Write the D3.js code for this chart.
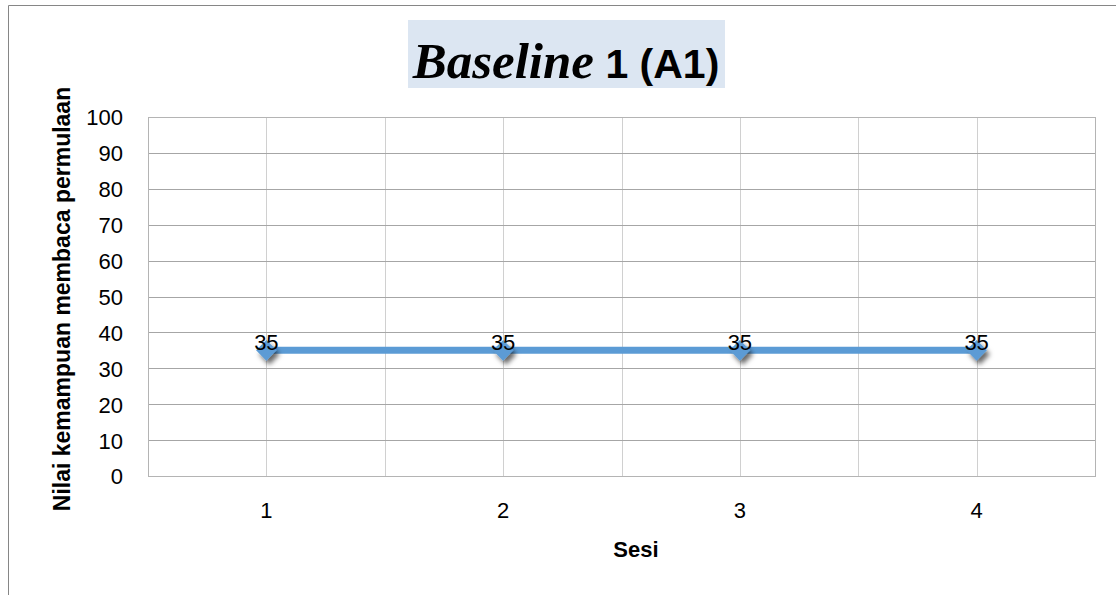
<!DOCTYPE html>
<html>
<head>
<meta charset="utf-8">
<script src="https://cdn.jsdelivr.net/npm/d3@7"></script>
<style>
  html, body { margin: 0; padding: 0; background: #ffffff; }
  svg { display: block; }
</style>
</head>
<body>
<svg id="chart" width="1116" height="595"></svg>
<script>
// Session numbers and reading scores for Baseline 1 (A1)
const sessions = ["1", "2", "3", "4"];
const scores = [35, 35, 35, 35];
const yTicks = [0, 10, 20, 30, 40, 50, 60, 70, 80, 90, 100];

const titleItalic = "Baseline";
const titleRest = " 1 (A1)";
const yAxisTitle = "Nilai kemampuan membaca permulaan";
const xAxisTitle = "Sesi";

const W = 1116, H = 595;
const plot = { left: 148, right: 1095, top: 117, bottom: 476 };
const sans = "'Liberation Sans', Arial, sans-serif";

const svg = d3.select("#chart");

// drop shadow used by the markers
const defs = svg.append("defs");
const f = defs.append("filter").attr("id", "shadow")
  .attr("x", "-60%").attr("y", "-60%").attr("width", "220%").attr("height", "220%");
f.append("feDropShadow").attr("dx", 3).attr("dy", 4).attr("stdDeviation", 2.5)
  .attr("flood-color", "#000").attr("flood-opacity", 0.6);

// chart frame (top and left edges visible)
svg.append("path")
  .attr("d", `M8.5,${H} L8.5,5.5 L${W},5.5`)
  .attr("fill", "none").attr("stroke", "#868686").attr("stroke-width", 1);

const x = d3.scaleBand().domain(sessions).range([plot.left, plot.right]).paddingInner(0).paddingOuter(0);
const y = d3.scaleLinear().domain([0, 100]).range([plot.bottom, plot.top]);
const cx = d => x(d) + x.bandwidth() / 2;

// vertical gridlines: category boundaries and centres
const g = svg.append("g");
const vLines = [];
sessions.forEach((s, i) => { if (i > 0) vLines.push(x(s)); vLines.push(cx(s)); });
g.selectAll("line.v").data(vLines).join("line")
  .attr("class", "v")
  .attr("x1", d => Math.round(d) + 0.5).attr("x2", d => Math.round(d) + 0.5)
  .attr("y1", plot.top).attr("y2", plot.bottom)
  .attr("stroke", "#d0d0d0").attr("stroke-width", 1);

// horizontal gridlines
g.selectAll("line.h").data(yTicks).join("line")
  .attr("class", "h")
  .attr("x1", plot.left).attr("x2", plot.right)
  .attr("y1", d => Math.round(y(d)) + 0.5).attr("y2", d => Math.round(y(d)) + 0.5)
  .attr("stroke", "#a6a6a6").attr("stroke-width", 1);

// plot area border
g.append("rect")
  .attr("x", plot.left + 0.5).attr("y", Math.round(plot.top) + 0.5)
  .attr("width", plot.right - plot.left).attr("height", Math.round(plot.bottom) - Math.round(plot.top))
  .attr("fill", "none").attr("stroke", "#b4b4b4").attr("stroke-width", 1);

// y axis tick labels
const yAxis = d3.axisLeft(y).tickValues(yTicks).tickSize(0).tickPadding(0);
const ya = svg.append("g").attr("transform", `translate(123,0)`).call(yAxis);
ya.select(".domain").remove();
ya.selectAll("text").attr("font-family", sans).attr("font-size", 22).attr("fill", "#000")
  .attr("dy", "0.36em").attr("x", 0);

// x axis tick labels
const xAxis = d3.axisBottom(x).tickSize(0).tickPadding(0);
const xa = svg.append("g").attr("transform", `translate(0,${plot.bottom})`).call(xAxis);
xa.select(".domain").remove();
xa.selectAll("text").attr("font-family", sans).attr("font-size", 22).attr("fill", "#000")
  .attr("dy", 0).attr("y", 42);

// axis titles
svg.append("text")
  .attr("transform", `translate(70,299) rotate(-90)`)
  .attr("text-anchor", "middle")
  .attr("font-family", sans).attr("font-size", 23).attr("font-weight", "bold")
  .text(yAxisTitle);

svg.append("text")
  .attr("x", 636).attr("y", 557)
  .attr("text-anchor", "middle")
  .attr("font-family", sans).attr("font-size", 22).attr("font-weight", "bold")
  .text(xAxisTitle);

// series line
const pts = sessions.map((s, i) => ({ s, v: scores[i] }));
svg.append("path")
  .datum(pts)
  .attr("d", d3.line().x(d => cx(d.s)).y(d => y(d.v)))
  .attr("fill", "none").attr("stroke", "#5b9bd5").attr("stroke-width", 7);

// diamond markers
svg.append("g").selectAll("path").data(pts).join("path")
  .attr("transform", d => `translate(${cx(d.s)},${y(d.v)})`)
  .attr("d", d3.symbol().type(d3.symbolDiamond2).size(270))
  .attr("fill", "#5b9bd5")
  .attr("filter", "url(#shadow)");

// data labels
svg.append("g").selectAll("text").data(pts).join("text")
  .attr("x", d => cx(d.s)).attr("y", d => y(d.v))
  .attr("text-anchor", "middle")
  .attr("font-family", sans).attr("font-size", 22).attr("fill", "#000")
  .text(d => d.v);

// title with shaded background
const tg = svg.append("g");
tg.append("rect").attr("fill", "#dce6f2")
  .attr("x", 408).attr("y", 20).attr("width", 317).attr("height", 68);
const title = tg.append("text").attr("x", 566).attr("y", 78).attr("text-anchor", "middle");
title.append("tspan")
  .attr("font-family", "'Liberation Serif', 'Times New Roman', serif")
  .attr("font-style", "italic").attr("font-weight", "bold").attr("font-size", 51)
  .text(titleItalic);
title.append("tspan")
  .attr("font-family", sans).attr("font-weight", "bold").attr("font-size", 41)
  .text(titleRest);
</script>
</body>
</html>
